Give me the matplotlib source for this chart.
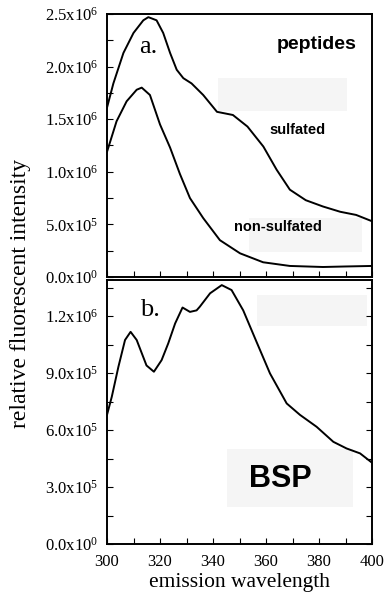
import numpy as np
import matplotlib
matplotlib.use("Agg")
import matplotlib.pyplot as plt
from matplotlib.ticker import MultipleLocator, FuncFormatter
from matplotlib.patches import Rectangle

plt.rcParams.update({
    "font.family": "Liberation Serif",
    "mathtext.fontset": "custom",
    "mathtext.rm": "Liberation Serif",
    "mathtext.default": "regular",
    "xtick.labelsize": 12,
    "ytick.labelsize": 12,
    "xtick.direction": "in",
    "ytick.direction": "in",
})

# panel a: peptides
wl_sulf = [300, 302.4, 306.2, 310, 313.7, 315.6, 318.7, 321.2, 323.8, 326.3, 328.8,
           331.9, 336.3, 341.5, 347.5, 353, 359, 364, 369, 375, 381.5, 388, 394, 400]
sulfated = [1.61e6, 1.84e6, 2.13e6, 2.32e6, 2.44e6, 2.47e6, 2.44e6, 2.32e6, 2.13e6, 1.97e6, 1.89e6,
            1.84e6, 1.73e6, 1.57e6, 1.54e6, 1.43e6, 1.24e6, 1.02e6, 0.83e6, 0.73e6, 0.67e6, 0.62e6, 0.59e6, 0.53e6]

wl_non = [300, 303.6, 307.4, 311.2, 313.1, 316.2, 320, 323.8, 327.5, 331.3, 336.3,
          342.6, 350.2, 358.9, 369, 381.5, 390, 400]
non_sulfated = [1.19e6, 1.48e6, 1.67e6, 1.78e6, 1.80e6, 1.73e6, 1.45e6, 1.23e6, 0.98e6, 0.75e6, 0.56e6,
                0.35e6, 0.225e6, 0.14e6, 0.105e6, 0.095e6, 0.10e6, 0.105e6]

# panel b: BSP
wl_bsp = [300, 301.8, 304.3, 306.8, 308.9, 311.2, 314.9, 317.7, 320.6, 323.1, 325.7, 328.5,
          331.3, 333.8, 335, 338.9, 343.3, 347, 351.4, 356.4, 361.5, 367.8, 372.8, 379.1,
          385.4, 390.4, 395.5, 400]
bsp = [0.68e6, 0.775e6, 0.933e6, 1.074e6, 1.117e6, 1.074e6, 0.94e6, 0.907e6, 0.968e6, 1.056e6, 1.161e6, 1.245e6,
       1.222e6, 1.23e6, 1.249e6, 1.32e6, 1.363e6, 1.337e6, 1.23e6, 1.065e6, 0.898e6, 0.74e6, 0.68e6, 0.617e6,
       0.538e6, 0.503e6, 0.477e6, 0.428e6]


def sci_fmt(v, pos):
    if v == 0:
        return "0.0x10$^{0}$"
    e = int(np.floor(np.log10(abs(v))))
    m = v / 10**e
    return f"{m:.1f}x10$^{{{e}}}$"


def style(ax):
    for s in ax.spines.values():
        s.set_linewidth(1.4)
    ax.tick_params(which="both", direction="in", length=4, width=0.8,
                   labelsize=12, pad=6)


box_color = "#f5f5f5"

fig = plt.figure(figsize=(3.88, 5.98), dpi=100)
ax1 = fig.add_axes([0.2758, 0.5368, 0.683, 0.4398])
ax2 = fig.add_axes([0.2758, 0.0903, 0.683, 0.4415])

# panel a
ax1.add_patch(Rectangle((341.9, 1.58e6), 48.7, 0.31e6, color=box_color, lw=0, zorder=0))
ax1.add_patch(Rectangle((353.6, 0.24e6), 42.6, 0.32e6, color=box_color, lw=0, zorder=0))
ax1.plot(wl_sulf, sulfated, color="black", lw=1.4)
ax1.plot(wl_non, non_sulfated, color="black", lw=1.4)
ax1.set_xlim(300, 400)
ax1.set_ylim(0, 2.5e6)
ax1.xaxis.set_major_locator(MultipleLocator(20))
ax1.xaxis.set_minor_locator(MultipleLocator(10))
ax1.yaxis.set_major_locator(MultipleLocator(0.5e6))
ax1.yaxis.set_minor_locator(MultipleLocator(0.25e6))
ax1.yaxis.set_major_formatter(FuncFormatter(sci_fmt))
style(ax1)
ax1.tick_params(axis="x", labelbottom=False)
ax1.text(0.155, 0.875, "a.", transform=ax1.transAxes, fontsize=19, ha="center", va="center")
ax1.text(0.94, 0.885, "peptides", transform=ax1.transAxes, fontsize=14, fontweight="bold",
         family="Liberation Sans", ha="right", va="center")
ax1.text(0.72, 0.56, "sulfated", transform=ax1.transAxes, fontsize=10.5, fontweight="bold",
         family="Liberation Sans", ha="center", va="center")
ax1.text(0.645, 0.19, "non-sulfated", transform=ax1.transAxes, fontsize=10.5, fontweight="bold",
         family="Liberation Sans", ha="center", va="center")

# panel b
ax2.add_patch(Rectangle((356.6, 1.15e6), 41.5, 0.16e6, color=box_color, lw=0, zorder=0))
ax2.add_patch(Rectangle((345.3, 0.195e6), 47.5, 0.305e6, color=box_color, lw=0, zorder=0))
ax2.plot(wl_bsp, bsp, color="black", lw=1.4)
ax2.set_xlim(300, 400)
ax2.set_ylim(0, 1.39e6)
ax2.xaxis.set_major_locator(MultipleLocator(20))
ax2.xaxis.set_minor_locator(MultipleLocator(10))
ax2.yaxis.set_major_locator(MultipleLocator(3e5))
ax2.yaxis.set_minor_locator(MultipleLocator(1.5e5))
ax2.yaxis.set_major_formatter(FuncFormatter(sci_fmt))
style(ax2)
ax2.tick_params(axis="y", which="both", right=True)
ax2.tick_params(axis="x", pad=7)
ax2.text(0.162, 0.886, "b.", transform=ax2.transAxes, fontsize=19, ha="center", va="center")
ax2.text(0.653, 0.246, "BSP", transform=ax2.transAxes, fontsize=22, fontweight="bold",
         family="Liberation Sans", ha="center", va="center")
ax2.set_xlabel("emission wavelength", fontsize=15.5, labelpad=2)

fig.text(0.052, 0.51, "relative fluorescent intensity", rotation=90, fontsize=17,
         ha="center", va="center")

fig.savefig("out.png", dpi=100)
